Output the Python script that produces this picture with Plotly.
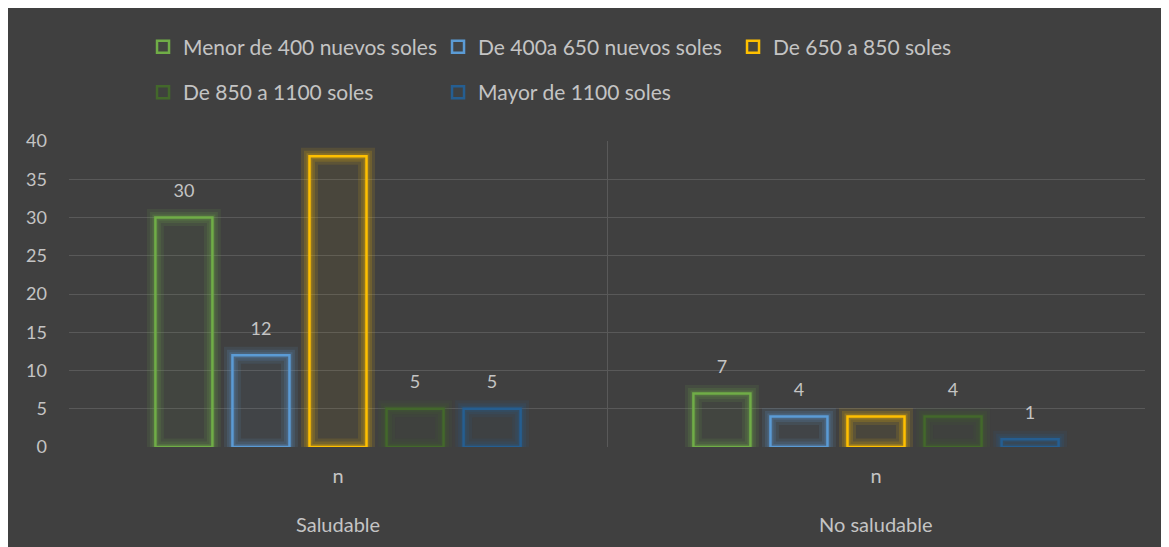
import plotly.graph_objects as go

grupos = ["Saludable", "No saludable"]
sub_etiquetas = ["n", "n"]
series = [
    "Menor de 400 nuevos soles",
    "De 400a 650 nuevos soles",
    "De 650 a 850 soles",
    "De 850 a 1100 soles",
    "Mayor de 1100 soles",
]
valores = [
    [30, 7],
    [12, 4],
    [38, 4],
    [5, 4],
    [5, 1],
]
mostrar_etiqueta = [True, True, False, True, True]
colores = ["#70ad47", "#5b9bd5", "#ffc000", "#43682b", "#255e91"]
leyenda = ["legend", "legend", "legend", "legend2", "legend2"]


def rgba(hexc, a):
    h = hexc.lstrip("#")
    r, g, b = int(h[0:2], 16), int(h[2:4], 16), int(h[4:6], 16)
    return f"rgba({r},{g},{b},{a})"


BG = "#404040"
TXT = "#c4c4c4"
FONT = "Lato, 'Open Sans', sans-serif"

fig = go.Figure()

for i, nombre in enumerate(series):
    # glow: wide translucent outlines under the real one, same slot via offsetgroup
    for w, a in [(17, 0.11), (11, 0.15), (6, 0.2)]:
        fig.add_trace(go.Bar(
            x=grupos, y=valores[i], offsetgroup=str(i),
            marker=dict(color="rgba(0,0,0,0)", line=dict(color=rgba(colores[i], a), width=w)),
            showlegend=False, hoverinfo="skip",
        ))
    fig.add_trace(go.Bar(
        x=grupos, y=valores[i], offsetgroup=str(i), name=nombre, legend=leyenda[i],
        marker=dict(color=rgba(colores[i], 0.05), line=dict(color=colores[i], width=2.5)),
    ))

# data labels as grouped text scatter; invisible marker pushes the text up
for i in range(len(series)):
    fig.add_trace(go.Scatter(
        x=grupos, y=valores[i], offsetgroup=str(i), mode="markers+text",
        text=[str(v) for v in valores[i]] if mostrar_etiqueta[i] else ["", ""],
        textposition="top center", cliponaxis=False,
        textfont=dict(family=FONT, size=18, color=TXT),
        marker=dict(size=24, opacity=0),
        showlegend=False, hoverinfo="skip",
    ))

fig.update_layout(
    width=1161, height=539,
    margin=dict(l=61, r=24, t=133, b=100),
    paper_bgcolor=BG, plot_bgcolor="rgba(0,0,0,0)",
    barmode="group", bargap=0.284, bargroupgap=0.26,
    scattermode="group", scattergap=0.284,
    font=dict(family=FONT, size=18, color=TXT),
    legend=dict(orientation="h", x=0.0688, y=1.3065, xanchor="left", yanchor="middle",
                entrywidth=250, entrywidthmode="pixels", bgcolor="rgba(0,0,0,0)",
                font=dict(family=FONT, size=21, color=TXT), traceorder="normal"),
    legend2=dict(orientation="h", x=0.0688, y=1.1585, xanchor="left", yanchor="middle",
                 entrywidth=250, entrywidthmode="pixels", bgcolor="rgba(0,0,0,0)",
                 font=dict(family=FONT, size=21, color=TXT), traceorder="normal"),
    annotations=[dict(x=g, y=-0.2516, xref="x", yref="paper", text=g, showarrow=False,
                      yanchor="middle", font=dict(family=FONT, size=20, color=TXT))
                 for g in grupos],
)
fig.update_yaxes(range=[0, 40], dtick=5, showgrid=True, gridcolor="#595959", gridwidth=1.2,
                 zeroline=False, showline=False, ticks="", ticklabelstandoff=21,
                 tickfont=dict(size=18, color=TXT))
fig.update_xaxes(tickmode="array", tickvals=grupos, ticktext=sub_etiquetas,
                 showgrid=True, gridcolor="#595959", gridwidth=1.2, tickson="boundaries",
                 showline=False, ticks="", ticklabelstandoff=15,
                 tickfont=dict(size=20, color=TXT))

fig.write_html("out.html")
